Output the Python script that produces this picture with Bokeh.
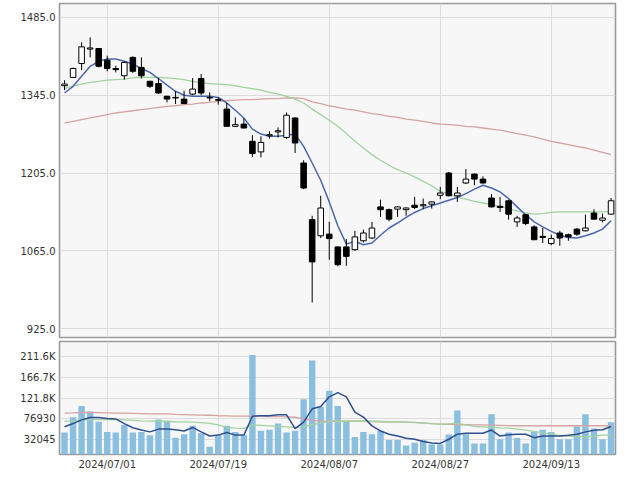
from bokeh.plotting import figure
from bokeh.layouts import column
from bokeh.models import FixedTicker, Range1d, ColumnDataSource
from bokeh.embed import file_html
from bokeh.resources import INLINE

dates = [
    "2024/06/24", "2024/06/25", "2024/06/26", "2024/06/27", "2024/06/28",
    "2024/07/01", "2024/07/02", "2024/07/03", "2024/07/04", "2024/07/05",
    "2024/07/08", "2024/07/09", "2024/07/10", "2024/07/11", "2024/07/12",
    "2024/07/16", "2024/07/17", "2024/07/18", "2024/07/19",
    "2024/07/22", "2024/07/23", "2024/07/24", "2024/07/25", "2024/07/26",
    "2024/07/29", "2024/07/30", "2024/07/31", "2024/08/01", "2024/08/02",
    "2024/08/05", "2024/08/06", "2024/08/07", "2024/08/08", "2024/08/09",
    "2024/08/13", "2024/08/14", "2024/08/15", "2024/08/16",
    "2024/08/19", "2024/08/20", "2024/08/21", "2024/08/22", "2024/08/23",
    "2024/08/26", "2024/08/27", "2024/08/28", "2024/08/29", "2024/08/30",
    "2024/09/02", "2024/09/03", "2024/09/04", "2024/09/05", "2024/09/06",
    "2024/09/09", "2024/09/10", "2024/09/11", "2024/09/12", "2024/09/13",
    "2024/09/17", "2024/09/18", "2024/09/19", "2024/09/20",
    "2024/09/24", "2024/09/25", "2024/09/26",
]

opens = [1362, 1377, 1402, 1428, 1429, 1408, 1393, 1380, 1413, 1395,
         1370, 1366, 1343, 1341, 1338, 1347, 1375, 1341, 1337, 1320,
         1289, 1293, 1262, 1243, 1272, 1279, 1269, 1304, 1223, 1121,
         1092, 1095, 1072, 1072, 1067, 1083, 1088, 1144, 1139, 1140,
         1139, 1147, 1146, 1149, 1165, 1205, 1164, 1187, 1203, 1194,
         1160, 1145, 1155, 1117, 1130, 1108, 1091, 1078, 1097, 1094,
         1104, 1101, 1133, 1120, 1131]
highs = [1372, 1395, 1440, 1449, 1430, 1416, 1398, 1406, 1415, 1413,
         1371, 1376, 1344, 1352, 1353, 1376, 1383, 1350, 1341, 1331,
         1305, 1303, 1273, 1271, 1280, 1287, 1314, 1305, 1228, 1128,
         1164, 1117, 1073, 1086, 1101, 1103, 1117, 1157, 1141, 1145,
         1143, 1162, 1159, 1154, 1180, 1207, 1180, 1212, 1204, 1199,
         1167, 1162, 1157, 1128, 1131, 1111, 1106, 1094, 1101, 1096,
         1106, 1130, 1140, 1132, 1160]
lows = [1354, 1376, 1390, 1413, 1395, 1388, 1386, 1373, 1385, 1375,
        1358, 1347, 1332, 1329, 1329, 1345, 1345, 1334, 1328, 1289,
        1289, 1285, 1234, 1233, 1267, 1269, 1266, 1241, 1176, 972,
        1088, 1049, 1037, 1038, 1065, 1080, 1086, 1126, 1118, 1126,
        1128, 1140, 1140, 1141, 1158, 1163, 1153, 1185, 1183, 1186,
        1143, 1135, 1121, 1108, 1111, 1084, 1079, 1075, 1074, 1083,
        1092, 1100, 1121, 1116, 1130]
closes = [1365, 1393, 1432, 1430, 1397, 1393, 1391, 1404, 1388, 1380,
          1361, 1349, 1338, 1340, 1330, 1356, 1349, 1340, 1336, 1289,
          1292, 1286, 1240, 1260, 1274, 1281, 1309, 1259, 1178, 1045,
          1142, 1087, 1040, 1055, 1090, 1097, 1106, 1139, 1122, 1144,
          1142, 1143, 1148, 1153, 1169, 1164, 1169, 1194, 1194, 1187,
          1144, 1143, 1131, 1124, 1114, 1085, 1089, 1087, 1088, 1090,
          1095, 1106, 1122, 1124, 1155]

ma5 = [1349, 1361, 1379, 1397, 1406, 1410, 1410, 1406, 1401, 1393,
       1386, 1375, 1363, 1352, 1345, 1343, 1343, 1343, 1341, 1331,
       1318, 1304, 1284, 1275, 1271, 1271, 1273, 1275, 1253, 1223,
       1192, 1153, 1110, 1077, 1082, 1076, 1079, 1093, 1106, 1115,
       1125, 1134, 1141, 1146, 1151, 1156, 1161, 1168, 1176, 1183,
       1178, 1171, 1159, 1144, 1130, 1117, 1108, 1100, 1093, 1089,
       1088, 1092, 1097, 1104, 1119]
ma25 = [1357, 1362, 1365, 1368, 1370, 1372, 1373, 1374, 1376, 1377,
        1377, 1377, 1376, 1375, 1373, 1370, 1367, 1366, 1365, 1364,
        1362, 1359, 1357, 1354, 1350, 1347, 1343, 1338, 1331, 1320,
        1310, 1300, 1289, 1276, 1262, 1250, 1238, 1228, 1219, 1211,
        1205, 1198, 1190, 1182, 1172, 1167, 1162, 1158, 1154, 1151,
        1148, 1145, 1141, 1137, 1133, 1131, 1132, 1134, 1135, 1135,
        1135, 1135, 1135, 1135, 1136]
ma75 = [1295, 1298, 1301, 1304, 1307, 1310, 1313, 1315, 1317, 1319,
        1321, 1323, 1325, 1326, 1328, 1329, 1331, 1332, 1334, 1335,
        1336, 1337, 1337, 1338, 1339, 1339, 1340, 1340, 1339, 1333,
        1330, 1326, 1323, 1320, 1318, 1315, 1312, 1310, 1307, 1305,
        1302, 1300, 1298, 1295, 1293, 1292, 1291, 1289, 1288, 1286,
        1284, 1282, 1279, 1276, 1273, 1270, 1266, 1262, 1259, 1256,
        1253, 1250, 1246, 1242, 1238]

volumes = [47500, 80700, 105000, 93300, 71200, 49000, 47500, 63700, 47500, 49000,
           41600, 75600, 71200, 36500, 43800, 62300, 46000, 16600, 41600, 62300,
           49000, 41600, 215600, 51200, 53500, 67400, 47500, 51200, 119800, 203800,
           102800, 138200, 105000, 71900, 38000, 49000, 43800, 51200, 31300, 31300,
           19500, 25400, 31300, 21700, 21700, 43100, 95500, 43800, 24000, 24000,
           87300, 32800, 47500, 35800, 24000, 49000, 53500, 49000, 32800, 32800,
           60800, 87300, 56400, 32800, 69600]
vol_ma5 = [60000, 67000, 75000, 80000, 80000, 78000, 77000, 67000, 58000, 53000,
           49000, 55000, 55000, 53500, 51000, 58600, 49000, 40000, 42000, 47500,
           42000, 42000, 83000, 84000, 84000, 86000, 86000, 56000, 70000, 99000,
           104000, 125000, 134000, 125000, 92000, 81000, 62000, 51000, 44000, 40000,
           35000, 33000, 28000, 25000, 24000, 33000, 44000, 46000, 46000, 46000,
           53000, 40000, 43000, 44000, 44000, 36500, 40000, 40000, 40000, 41600,
           44000, 49000, 52700, 53500, 60800]
vol_ma25 = [72000, 73000, 75000, 75600, 75600, 75600, 75600, 75000, 74000, 73000,
            72500, 72000, 72000, 71000, 70500, 70000, 69000, 67500, 64000, 58600,
            57000, 56400, 64000, 63000, 62000, 61000, 60000, 58600, 60000, 65000,
            68000, 72000, 72000, 72000, 72000, 72000, 72000, 71500, 71000, 70500,
            70000, 69000, 68000, 67000, 66000, 66500, 67400, 64000, 61000, 60000,
            59000, 57500, 57000, 55000, 53000, 50000, 47000, 44000, 41000, 40000,
            39000, 38000, 40000, 42000, 42300]
vol_ma75 = [89500, 90000, 91000, 91000, 90500, 90000, 89500, 89500, 89000, 88500,
            88000, 88000, 88000, 87000, 86500, 86000, 85500, 85000, 84000, 83500,
            83000, 83000, 83000, 82500, 82000, 82000, 81500, 80700, 77000, 74000,
            72500, 72000, 73000, 72500, 72000, 72000, 71500, 71000, 71000, 70500,
            70000, 69500, 68500, 67000, 66000, 65500, 65000, 64500, 64000, 64000,
            63500, 63000, 62500, 62300, 62300, 62300, 62300, 62300, 62300, 62300,
            62300, 62300, 62300, 62300, 62300]

price_ticks = [925.0, 1065.0, 1205.0, 1345.0, 1485.0]
volume_ticks = [32045, 76930, 121815, 166700, 211585]
volume_tick_labels = ["32045", "76930", "121.8K", "166.7K", "211.6K"]
date_tick_labels = ["2024/07/01", "2024/07/19", "2024/08/07", "2024/08/27", "2024/09/13"]

idx = list(range(len(dates)))
date_tick_pos = [dates.index(d) for d in date_tick_labels]

FONT = "DejaVu Sans"
GRID = "#dcdcdc"
BG = "#f7f7f7"
OUTLINE = "#9a9a9a"

x_range = Range1d(-0.59, 64.52)

src = ColumnDataSource(dict(
    x=idx, o=opens, h=highs, l=lows, c=closes,
    top=[max(a, b) for a, b in zip(opens, closes)],
    bot=[min(a, b) for a, b in zip(opens, closes)],
    fill=["white" if c >= o else "black" for o, c in zip(opens, closes)],
    ma5=ma5, ma25=ma25, ma75=ma75,
))


def style(p):
    p.background_fill_color = BG
    p.border_fill_color = "white"
    p.outline_line_color = OUTLINE
    p.outline_line_width = 1.6
    p.xgrid.grid_line_color = GRID
    p.ygrid.grid_line_color = GRID
    p.xgrid.ticker = FixedTicker(ticks=date_tick_pos)
    for ax in p.yaxis:
        ax.axis_line_color = None
        ax.major_tick_line_color = None
        ax.minor_tick_line_color = None
        ax.major_tick_out = 0
        ax.major_tick_in = 0
        ax.major_label_standoff = 4
        ax.major_label_text_font = FONT
        ax.major_label_text_font_size = "10px"
        ax.major_label_text_color = "#333333"


p1 = figure(width=617, height=339, x_range=x_range, y_range=Range1d(909, 1510),
            output_backend="svg", toolbar_location=None,
            min_border_left=59, min_border_right=2, min_border_top=3, min_border_bottom=2)
style(p1)
p1.xaxis.visible = False
p1.yaxis.ticker = FixedTicker(ticks=price_ticks)
p1.yaxis.major_label_overrides = {t: f"{t:.1f}" for t in price_ticks}

p1.line("x", "ma75", source=src, line_color="#d4a3a3", line_width=1.3)
p1.line("x", "ma25", source=src, line_color="#a3d2a0", line_width=1.3)
p1.line("x", "ma5", source=src, line_color="#4a68a8", line_width=1.5)
p1.segment("x", "h", "x", "l", source=src, line_color="black", line_width=1)
p1.vbar(x="x", top="top", bottom="bot", width=0.65, source=src,
        fill_color="fill", line_color="black", line_width=1)

vsrc = ColumnDataSource(dict(x=idx, v=volumes, m5=vol_ma5, m25=vol_ma25, m75=vol_ma75))

p2 = figure(width=617, height=133, x_range=x_range, y_range=Range1d(0, 244800),
            output_backend="svg", toolbar_location=None,
            min_border_left=59, min_border_right=2, min_border_top=2, min_border_bottom=0)
style(p2)
p2.yaxis.ticker = FixedTicker(ticks=volume_ticks)
p2.yaxis.major_label_overrides = dict(zip(volume_ticks, volume_tick_labels))
p2.xaxis.ticker = FixedTicker(ticks=date_tick_pos)
p2.xaxis.major_label_overrides = dict(zip(date_tick_pos, date_tick_labels))
p2.xaxis.axis_line_color = None
p2.xaxis.major_tick_line_color = None
p2.xaxis.minor_tick_line_color = None
p2.xaxis.major_tick_out = 0
p2.xaxis.major_tick_in = 0
p2.xaxis.major_label_standoff = 4
p2.xaxis.major_label_text_font = FONT
p2.xaxis.major_label_text_font_size = "10px"
p2.xaxis.major_label_text_color = "#333333"

p2.vbar(x="x", top="v", bottom=0, width=0.75, source=vsrc,
        fill_color="#8bbfe0", line_color=None)
p2.line("x", "m75", source=vsrc, line_color="#d4a3a3", line_width=1.3)
p2.line("x", "m25", source=vsrc, line_color="#a3d2a0", line_width=1.3)
p2.line("x", "m5", source=vsrc, line_color="#2f4f8f", line_width=1.5)

layout = column(p1, p2, spacing=0)

open("out.html", "w").write(file_html(layout, INLINE))
